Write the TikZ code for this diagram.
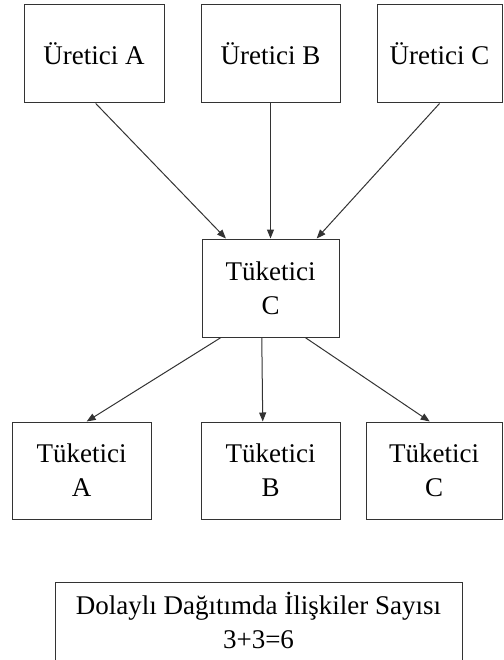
\documentclass[tikz,border=0pt]{standalone}
\usepackage{fontspec}
\setmainfont{Liberation Serif}
\usetikzlibrary{arrows.meta}
\tikzset{
  kutu/.style={draw=black!80, line width=1pt, inner sep=0pt, align=center,
    minimum width=139pt, minimum height=98pt,
    font=\fontsize{27}{34}\selectfont},
  ok/.style={draw=black!80, line width=1pt, -{Triangle[length=9pt,width=7pt]}}
}
\begin{document}
\begin{tikzpicture}[x=1pt,y=-1pt]
        \useasboundingbox (0,0) rectangle (503,660);

        % üreticiler
        \node[kutu, minimum width=140pt] (uA) at (94,54) {Üretici A};
        \node[kutu] (uB) at (270.5,54) {Üretici B};
        \node[kutu, minimum width=125pt] (uC) at (439.5,54) {Üretici C};

        % aracı
        \node[kutu, minimum width=137pt] (orta) at (270.5,288) {Tüketici\\C};

        % tüketiciler
        \node[kutu, minimum height=97pt] (tA) at (81.5,470.5) {Tüketici\\A};
        \node[kutu, minimum height=97pt] (tB) at (270.5,470.5) {Tüketici\\B};
        \node[kutu, minimum width=136pt, minimum height=97pt] (tC) at (434,470.5) {Tüketici\\C};

        % oklar
        \draw[ok] (uA.272) -- (orta.132);
        \draw[ok] (uB.south) -- (orta.north);
        \draw[ok] (uC.270) -- (orta.47);
        \draw[ok] (orta.225) -- (tA.84);
        \draw[ok] (orta.260) -- (tB.99);
        \draw[ok] (orta.305) -- (tC.95);

        % ilişki sayısı
        \node[kutu, anchor=north, minimum width=407pt, inner ysep=10pt, text depth=60pt]
          (sayi) at (258.5,582) {Dolaylı Dağıtımda İlişkiler Sayısı\\3+3=6};
    \end{tikzpicture}
\end{document}
